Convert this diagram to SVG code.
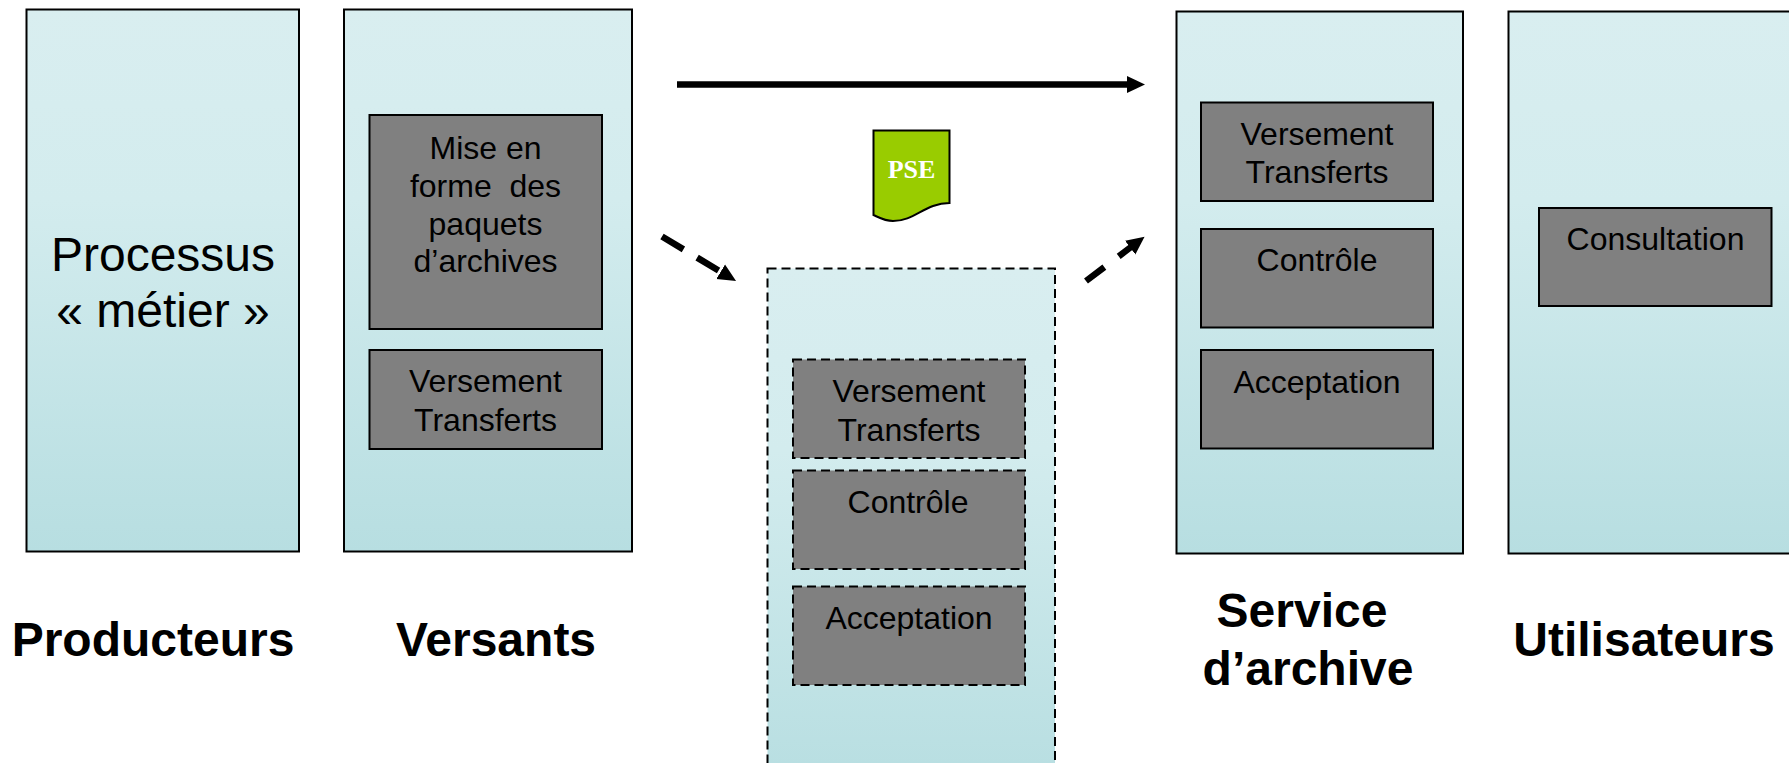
<svg xmlns="http://www.w3.org/2000/svg" width="1789" height="763" viewBox="0 0 1789 763">
<defs>
<linearGradient id="lane" x1="0" y1="0" x2="0" y2="1"><stop offset="0" stop-color="#D9EEF0"/><stop offset="0.35" stop-color="#D3ECEE"/><stop offset="1" stop-color="#B7DEE1"/></linearGradient>
<marker id="head" markerUnits="userSpaceOnUse" markerWidth="20" markerHeight="20" refX="1" refY="10" orient="auto"><path d="M0 1.500L18 10L0 18.500Z" fill="#000"/></marker>
</defs>
<style>
.lane{fill:url(#lane);stroke:#000;stroke-width:2}
.box{fill:#808080;stroke:#000;stroke-width:2}
.dash{stroke-dasharray:9 5}
text{font-family:"Liberation Sans",Arial,sans-serif;fill:#000;text-anchor:middle}
.t{font-size:32px}
.b{font-size:48px;font-weight:bold}
.p{font-size:48px}
.conn{stroke:#000;stroke-width:6.500;fill:none;marker-end:url(#head)}
</style>
<rect width="1789" height="763" fill="#fff"/>
<g id="producteurs">
<rect class="lane" x="26.500" y="9.500" width="272.500" height="542"/>
<text class="p" x="163" y="271">Processus</text>
<text class="p" x="163" y="327">« métier »</text>
<text class="b" x="153" y="656">Producteurs</text>
</g>
<g id="versants">
<rect class="lane" x="344" y="9.500" width="288" height="542"/>
<g id="versants-mise-en-forme">
<rect class="box" x="369.500" y="115" width="232.500" height="214"/>
<text class="t" x="485.500" y="159">Mise en</text>
<text class="t" x="485.500" y="197" xml:space="preserve">forme  des</text>
<text class="t" x="485.500" y="235">paquets</text>
<text class="t" x="485.500" y="272">d’archives</text>
</g>
<g id="versants-versement">
<rect class="box" x="369.500" y="350" width="232.500" height="99"/>
<text class="t" x="485.500" y="392">Versement</text>
<text class="t" x="485.500" y="431">Transferts</text>
</g>
<text class="b" x="496" y="656">Versants</text>
</g>
<g id="tiers">
<rect class="lane dash" x="767.500" y="268.500" width="287.500" height="520"/>
<g id="tiers-versement">
<rect class="box dash" x="793" y="359.500" width="232" height="98.500"/>
<text class="t" x="909" y="402">Versement</text>
<text class="t" x="909" y="441">Transferts</text>
</g>
<g id="tiers-controle">
<rect class="box dash" x="793" y="470.500" width="232" height="98.500"/>
<text class="t" x="908" y="513">Contrôle</text>
</g>
<g id="tiers-acceptation">
<rect class="box dash" x="793" y="586.500" width="232" height="98.500"/>
<text class="t" x="909" y="629">Acceptation</text>
</g>
</g>
<g id="pse">
<path d="M873.500 130.500H949.500V203C925 203 915 221 893 221C885 221 880 218 873.500 215Z" fill="#99CC00" stroke="#000" stroke-width="2"/>
<text x="911.500" y="178" style="font-family:'Liberation Serif',serif;font-size:26px;font-weight:bold;fill:#fff">PSE</text>
</g>
<g id="service">
<rect class="lane" x="1176.500" y="11.500" width="286.500" height="542"/>
<g id="service-versement">
<rect class="box" x="1201" y="102.500" width="232" height="98.500"/>
<text class="t" x="1317" y="145">Versement</text>
<text class="t" x="1317" y="183">Transferts</text>
</g>
<g id="service-controle">
<rect class="box" x="1201" y="229" width="232" height="98.500"/>
<text class="t" x="1317" y="271">Contrôle</text>
</g>
<g id="service-acceptation">
<rect class="box" x="1201" y="350" width="232" height="98.500"/>
<text class="t" x="1317" y="393">Acceptation</text>
</g>
<text class="b" x="1302" y="627">Service</text>
<text class="b" x="1308" y="685">d’archive</text>
</g>
<g id="utilisateurs">
<rect class="lane" x="1508.500" y="11.500" width="300" height="542"/>
<g id="utilisateurs-consultation">
<rect class="box" x="1539" y="208" width="232.500" height="98"/>
<text class="t" x="1655.500" y="250">Consultation</text>
</g>
<text class="b" x="1644" y="656">Utilisateurs</text>
</g>
<g id="connectors">
<line class="conn" x1="677" y1="84.500" x2="1128" y2="84.500"/>
<line class="conn" x1="662" y1="236.500" x2="721.500" y2="272.300" stroke-dasharray="25 16"/>
<line class="conn" x1="1086" y1="281" x2="1131" y2="247" stroke-dasharray="23 18"/>
</g>
</svg>
